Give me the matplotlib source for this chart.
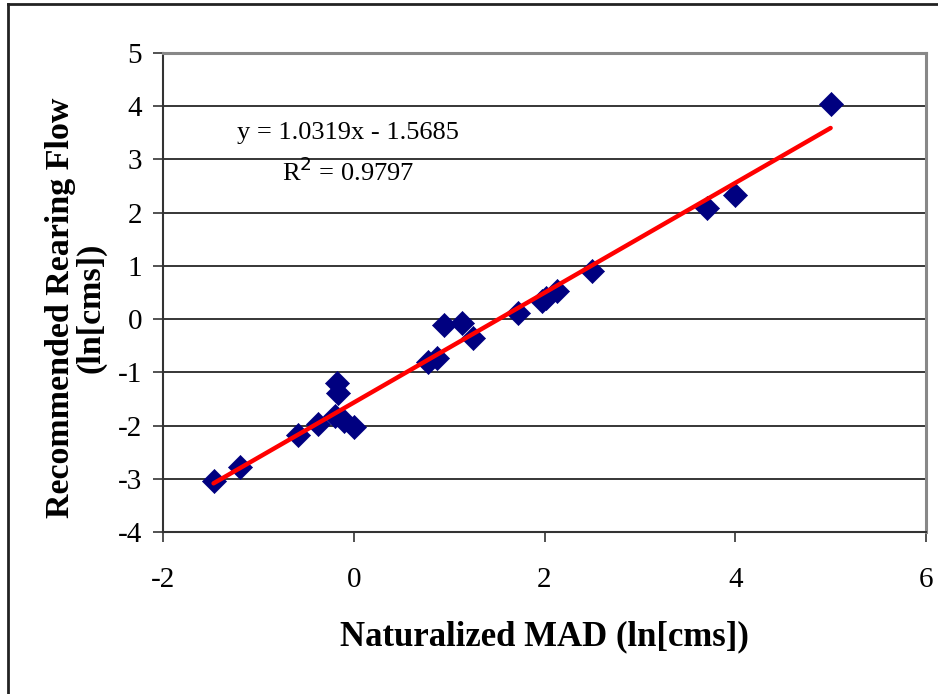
import matplotlib
matplotlib.use("Agg")
import matplotlib.pyplot as plt
from matplotlib.lines import Line2D
import numpy as np

# Data
mad_ln = [-1.47, -1.19, -0.58, -0.37, -0.18, -0.17, -0.20, -0.10, 0.00,
          0.78, 0.87, 0.95, 1.13, 1.25, 1.72, 1.97, 2.02, 2.13, 2.50,
          3.70, 4.00, 5.00]
rearing_ln = [-3.05, -2.78, -2.18, -1.97, -1.20, -1.38, -1.82, -1.92, -2.03,
              -0.81, -0.73, -0.11, -0.08, -0.36, 0.11, 0.34, 0.40, 0.53, 0.90,
              2.09, 2.33, 4.04]
slope = 1.0319
intercept = -1.5685
r2 = 0.9797
x_ticks = [-2, 0, 2, 4, 6]
y_ticks = [-4, -3, -2, -1, 0, 1, 2, 3, 4, 5]

plt.rcParams['font.family'] = ['Liberation Serif', 'DejaVu Serif']

fig = plt.figure(figsize=(9.38, 6.94), dpi=100)
ax = fig.add_axes([163/938, 1-532/694, (926-163)/938, (532-53)/694])

ax.set_xlim(-2, 6)
ax.set_ylim(-4, 5)
ax.set_xticks(x_ticks)
ax.set_yticks(y_ticks)
ax.set_xticklabels([str(v) for v in x_ticks])
ax.set_yticklabels([str(v) for v in y_ticks])

for yv in y_ticks[1:-1]:
    ax.axhline(yv, color='black', lw=1.1, zorder=1)

ax.scatter(mad_ln, rearing_ln, marker='D', s=150, color='#000080',
           edgecolors='#000080', linewidths=0.5, zorder=3)

xf = np.array([min(mad_ln), max(mad_ln)])
ax.plot(xf, slope*xf + intercept, color='#ff0000', lw=3.2, zorder=4,
        solid_capstyle='round')

ax.text(-0.06, 3.5, f"y = {slope:.4f}x - {abs(intercept):.4f}", fontsize=19,
        ha='center', va='center', zorder=5)
ax.text(-0.06, 2.76, f"R$^2$ = {r2:.4f}", fontsize=19, ha='center', va='center', zorder=5)

for s in ['top', 'right']:
    ax.spines[s].set_color('#888888')
    ax.spines[s].set_linewidth(2.2)
for s in ['left', 'bottom']:
    ax.spines[s].set_color('#333333')
    ax.spines[s].set_linewidth(1.5)

ax.tick_params(axis='both', direction='out', length=7, width=1.2, color='#333333',
               labelsize=21)
ax.tick_params(axis='x', pad=18)
ax.tick_params(axis='y', pad=8)

ax.set_xlabel("Naturalized MAD (ln[cms])", fontsize=25, fontweight='bold', labelpad=20)
ax.set_ylabel("Recommended Rearing Flow\n(ln[cms])", fontsize=24.5, fontweight='bold',
              linespacing=0.95, va='center')
ax.yaxis.set_label_coords((76 - 163) / 763, (532 - 308) / 479)

# outer chart border (left and top edges visible)
fig.add_artist(Line2D([8/938, 8/938], [0, 1-4/694], transform=fig.transFigure,
                      color='#222222', lw=2))
fig.add_artist(Line2D([8/938, 1], [1-4/694, 1-4/694], transform=fig.transFigure,
                      color='#222222', lw=2))

fig.savefig("out.png", dpi=100)
